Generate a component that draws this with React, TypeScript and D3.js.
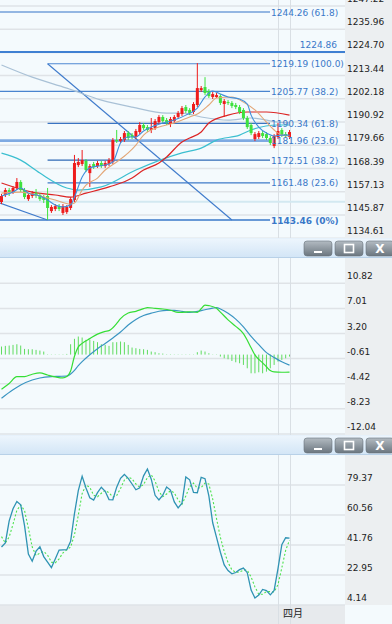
import React from 'react'
import * as d3 from 'd3'

const W = 392
const H = 624
const AXIS_X = 345

// candles (index 0..75), red = up, green = down
const opens = [1152.2, 1155.6, 1158.0, 1157.0, 1159.0, 1161.9, 1158.0, 1153.6, 1155.1, 1156.5,
  1155.6, 1154.6, 1155.1, 1147.8, 1148.8, 1150.2, 1146.9, 1147.3, 1149.3, 1153.2,
  1170.1, 1170.6, 1172.1, 1166.2, 1170.6, 1169.6, 1171.1, 1169.6, 1170.6, 1171.6,
  1182.2, 1181.7, 1182.2, 1185.6, 1184.6, 1183.7, 1186.1, 1189.5, 1188.5, 1187.1,
  1188.0, 1190.9, 1193.4, 1191.9, 1190.0, 1191.4, 1193.4, 1194.8, 1198.2, 1196.8,
  1195.8, 1199.2, 1206.4, 1207.9, 1206.0, 1203.1, 1203.1, 1203.5, 1199.7, 1200.6,
  1200.2, 1199.2, 1198.2, 1196.8, 1192.9, 1189.5, 1182.7, 1183.7, 1185.6, 1185.1,
  1183.2, 1179.3, 1183.7, 1187.1, 1185.1, 1183.7]
const highs = [1156.1, 1159.0, 1159.0, 1159.9, 1163.8, 1162.8, 1159.0, 1156.5, 1157.5, 1158.5,
  1156.5, 1155.6, 1159.0, 1150.7, 1151.2, 1151.2, 1151.2, 1150.7, 1154.6, 1175.0,
  1173.5, 1177.4, 1173.0, 1170.6, 1171.6, 1172.1, 1172.1, 1172.1, 1173.5, 1183.2,
  1187.1, 1183.7, 1186.6, 1186.6, 1185.6, 1187.6, 1190.9, 1190.5, 1189.5, 1192.9,
  1192.4, 1194.3, 1194.3, 1192.9, 1193.4, 1194.3, 1196.3, 1198.7, 1199.2, 1197.7,
  1200.6, 1219.5, 1208.4, 1212.7, 1206.9, 1205.5, 1205.0, 1204.5, 1202.1, 1201.6,
  1201.1, 1200.2, 1199.2, 1197.7, 1193.9, 1190.5, 1186.1, 1186.6, 1186.6, 1186.1,
  1184.2, 1185.1, 1190.5, 1188.0, 1186.1, 1187.1]
const lows = [1151.2, 1154.6, 1155.1, 1156.1, 1158.0, 1157.0, 1153.6, 1152.7, 1154.1, 1154.1,
  1152.7, 1151.7, 1143.5, 1146.9, 1147.8, 1147.8, 1145.9, 1146.4, 1148.3, 1152.2,
  1169.1, 1169.6, 1166.7, 1159.5, 1168.2, 1168.7, 1168.7, 1168.7, 1169.6, 1170.6,
  1180.8, 1180.8, 1181.3, 1182.2, 1182.7, 1182.7, 1185.1, 1187.1, 1186.1, 1185.6,
  1187.1, 1190.0, 1190.5, 1189.5, 1188.5, 1190.5, 1192.4, 1193.9, 1195.3, 1194.3,
  1194.8, 1198.2, 1205.5, 1204.0, 1202.6, 1202.1, 1202.6, 1199.2, 1193.4, 1199.2,
  1197.7, 1197.2, 1194.8, 1191.9, 1187.6, 1184.6, 1181.7, 1182.7, 1183.2, 1182.2,
  1179.8, 1178.3, 1182.7, 1183.7, 1183.2, 1182.7]
const closes = [1155.1, 1158.0, 1156.5, 1159.0, 1161.9, 1158.0, 1154.6, 1155.6, 1156.5, 1155.1,
  1153.6, 1153.2, 1149.3, 1149.8, 1150.2, 1148.8, 1150.2, 1149.8, 1153.6, 1171.1,
  1171.6, 1172.5, 1167.7, 1169.6, 1169.1, 1171.1, 1169.6, 1171.1, 1172.5, 1182.2,
  1181.7, 1182.7, 1185.6, 1183.2, 1183.7, 1186.6, 1189.5, 1188.0, 1187.1, 1188.0,
  1191.4, 1193.4, 1191.4, 1190.5, 1192.4, 1193.4, 1195.3, 1197.7, 1196.3, 1195.3,
  1199.7, 1207.4, 1207.4, 1205.0, 1203.5, 1204.5, 1204.0, 1200.2, 1201.1, 1200.2,
  1198.7, 1198.2, 1195.8, 1192.9, 1188.5, 1185.6, 1185.1, 1185.6, 1184.2, 1183.2,
  1180.8, 1184.2, 1186.6, 1184.6, 1184.2, 1186.1]

// moving averages as [index, price]
const maBlue = [[0, 1155.1], [3, 1157.0], [5, 1159.0], [7, 1156.5], [10, 1155.1], [12, 1153.2], [14, 1150.7],
  [16, 1149.8], [18, 1150.7], [19, 1154.6], [21, 1164.3], [23, 1168.7], [25, 1169.6], [27, 1170.1],
  [29, 1171.6], [31, 1180.8], [33, 1183.7], [35, 1183.7], [37, 1186.6], [39, 1188.5], [42, 1190.5],
  [45, 1191.9], [48, 1194.3], [51, 1197.7], [53, 1203.1], [55, 1206.0], [57, 1204.5], [59, 1203.1],
  [62, 1202.1], [64, 1199.7], [65, 1194.3], [67, 1188.5], [69, 1185.6], [71, 1184.2], [73, 1184.6], [75, 1184.6]]
const maTan = [[0, 1156.5], [5, 1157.0], [10, 1155.1], [14, 1153.2], [18, 1151.2], [19, 1151.7], [21, 1158.0],
  [22, 1160.4], [25, 1163.8], [27, 1167.7], [30, 1171.6], [33, 1176.0], [35, 1179.8], [37, 1184.6],
  [41, 1188.5], [45, 1190.5], [49, 1193.4], [51, 1194.8], [54, 1199.2], [56, 1202.6], [60, 1203.1],
  [63, 1200.6], [66, 1196.8], [69, 1190.9], [71, 1187.1], [73, 1184.6], [75, 1184.2]]
const maRed = [[0, 1161.4], [8, 1157.0], [14, 1155.6], [18, 1154.6], [22, 1156.5], [28, 1159.5], [34, 1163.8],
  [37, 1167.7], [41, 1171.1], [43, 1174.0], [47, 1181.3], [49, 1183.2], [52, 1186.1], [54, 1190.5],
  [59, 1194.3], [64, 1195.8], [69, 1195.8], [75, 1194.3]]
const maCyan = [[0, 1175.9], [5, 1172.5], [10, 1166.2], [17, 1159.0], [20, 1158.0], [26, 1159.5], [35, 1167.7],
  [47, 1176.0], [52, 1178.3], [56, 1182.2], [62, 1184.6], [65, 1187.1], [72, 1189.5], [75, 1189.5]]
const maGray = [[0, 1218.6], [8, 1212.7], [17, 1207.4], [26, 1201.6], [34, 1198.2], [43, 1195.3], [47, 1195.3],
  [52, 1193.4], [59, 1191.9], [65, 1192.9], [72, 1190.9], [75, 1190.5]]

// fibonacci levels
const fibPrices = [1244.26, 1219.19, 1205.77, 1190.34, 1181.96, 1172.51, 1161.48, 1143.46]
const fibLabels = ['1244.26 (61.8)', '1219.19 (100.0)', '1205.77 (38.2)', '1190.34 (61.8)',
  '1181.96 (23.6)', '1172.51 (38.2)', '1161.48 (23.6)', '1143.46 (0%)']
const fibStart = [-1, 12, -1, 12, -1, 12, 12, -1]
const fibTrend = [[12, 1219.19], [60, 1143.46]]
const fibTrendLeft = [[-0.4, 1151.7], [12, 1143.46]]
const levelLine = 1224.86
const faintLevel = 1152.3

const priceTicks = [1134.61, 1145.87, 1157.13, 1168.39, 1179.66, 1190.92, 1202.18, 1213.44, 1224.70, 1235.96, 1247.22]
const macdTicks = [-12.04, -8.23, -4.42, -0.61, 3.20, 7.01, 10.82]
const stochTicks = [4.14, 22.95, 41.76, 60.56, 79.37]

// MACD
const macdHist = [1.22, 1.32, 1.37, 1.47, 1.57, 1.37, 0.86, 0.81, 0.81, 0.71,
  0.61, 0.46, 0.05, 0.04, 0.04, 0.04, 0.05, 0.10, 1.57, 2.39,
  2.74, 2.59, 2.24, 2.24, 2.08, 1.88, 1.57, 1.47, 1.32, 1.88,
  1.88, 1.98, 1.88, 1.47, 1.07, 0.97, 0.86, 0.81, 0.71, 0.46,
  0.36, 0.20, 0.15, 0.05, 0.05, 0.04, 0.04, 0.04, 0.04, 0.04,
  0.04, 0.36, 0.61, 0.46, 0.20, 0.04, -0.04, -0.30, -0.56, -0.71,
  -0.97, -1.17, -1.32, -1.57, -2.08, -2.84, -2.84, -2.69, -2.84, -2.59,
  -2.08, -1.57, -1.07, -0.81, -0.56, -0.30]
const macdDif = [[0, -5.26], [2, -4.38], [4, -3.36], [6, -3.34], [8, -2.98], [10, -2.78], [12, -3.10],
  [14, -3.38], [16, -3.54], [17, -3.34], [18, -2.50], [19, -0.25], [20, 1.17], [21, 1.70], [23, 2.42],
  [25, 3.10], [27, 3.52], [28, 3.63], [29, 4.07], [30, 4.72], [31, 5.46], [33, 6.30], [35, 6.57],
  [37, 6.97], [38, 7.14], [40, 7.01], [42, 6.92], [44, 6.73], [46, 6.40], [48, 6.44], [49, 6.50],
  [51, 6.42], [52, 6.95], [53, 7.52], [54, 7.44], [56, 7.02], [57, 6.45], [59, 5.27], [61, 4.28],
  [63, 3.19], [64, 2.18], [65, 1.03], [66, -0.05], [67, -0.74], [68, -1.25], [69, -1.85], [70, -2.43],
  [71, -2.64], [73, -2.68], [75, -2.65]]
const macdDea = [[0, -6.63], [3, -5.35], [5, -4.62], [8, -3.86], [10, -3.55], [13, -3.34], [15, -3.30],
  [17, -3.26], [18, -2.95], [19, -2.40], [20, -1.69], [21, -1.08], [23, -0.03], [25, 0.88], [27, 1.69],
  [29, 2.53], [31, 3.42], [33, 4.48], [35, 5.33], [37, 5.93], [39, 6.29], [41, 6.58], [43, 6.71],
  [45, 6.70], [47, 6.57], [49, 6.40], [51, 6.55], [53, 6.81], [55, 7.05], [56, 7.12], [57, 6.92],
  [59, 6.27], [61, 5.38], [63, 4.21], [65, 2.75], [67, 1.50], [69, 0.30], [71, -0.43], [73, -1.10], [75, -1.60]]

// stochastic
const stochK = [40.5, 43.1, 56.9, 64.5, 69.0, 67.0, 53.9, 36.1, 31.6, 37.9,
  40.6, 34.5, 31.0, 27.6, 33.0, 38.6, 38.7, 38.8, 44.1, 61.4,
  75.8, 84.9, 77.5, 71.4, 69.9, 74.6, 78.0, 75.4, 70.2, 70.1,
  78.0, 83.6, 86.0, 83.5, 80.0, 76.4, 77.6, 85.1, 89.4, 83.0,
  72.9, 70.0, 73.0, 78.1, 76.2, 68.8, 65.0, 68.0, 84.4, 82.6,
  74.7, 74.5, 84.1, 83.3, 72.6, 55.7, 46.5, 37.2, 29.3, 25.7,
  23.7, 24.5, 26.3, 27.3, 24.4, 13.5, 8.5, 10.4, 13.9, 13.2,
  10.5, 13.3, 27.0, 41.9, 46.3, 46.1]
const stochD = [47.0, 43.0, 46.8, 54.8, 63.5, 66.8, 63.3, 52.3, 40.5, 35.2,
  36.7, 37.7, 35.4, 31.0, 30.5, 33.1, 36.8, 38.7, 40.5, 48.1,
  60.4, 74.0, 79.4, 77.9, 72.9, 72.0, 74.2, 76.0, 74.5, 71.9,
  72.8, 77.2, 82.5, 84.4, 83.2, 80.0, 78.0, 79.7, 84.0, 85.8,
  81.8, 75.3, 72.0, 73.7, 75.8, 74.4, 70.0, 67.3, 72.5, 78.3,
  80.6, 77.3, 77.8, 80.6, 80.0, 70.5, 58.3, 46.5, 37.7, 30.7,
  26.2, 24.6, 24.8, 26.0, 26.0, 21.7, 15.5, 10.8, 10.9, 12.5,
  12.5, 12.3, 16.9, 27.4, 38.4, 44.8]

const monthIndex = 72
const monthLabel = '四月'
const lastIndex = 75

const FONT = 'DejaVu Sans, Verdana, sans-serif'

const TOP = { y0: 0, y1: 238 }
const MACD = { y0: 258, y1: 435 }
const STO = { y0: 455, y1: 605 }

function PanelBar({ y }: { y: number }) {
  const btn = [304, 335, 366]
  return (
    <g>
      <rect x={0} y={y} width={W} height={20} fill="url(#barGrad)" />
      <line x1={0} x2={W} y1={y + 0.5} y2={y + 0.5} stroke="#e6f1fb" />
      <line x1={0} x2={W} y1={y + 19.5} y2={y + 19.5} stroke="#b8d1e8" />
      {btn.map((bx, i) => (
        <g key={i}>
          <rect x={bx} y={y + 3} width={28} height={15} rx={3} fill="url(#btnGrad)" stroke="#68737c" strokeWidth={0.6} />
          {i === 0 && <rect x={bx + 10} y={y + 13} width={8} height={2} fill="#fff" />}
          {i === 1 && <rect x={bx + 9.5} y={y + 6.5} width={9} height={8} fill="none" stroke="#fff" strokeWidth={1.6} />}
          {i === 2 && (
            <text x={bx + 14} y={y + 15} textAnchor="middle" fontSize={12} fontWeight="bold" fill="#fff" fontFamily={FONT}>X</text>
          )}
        </g>
      ))}
    </g>
  )
}

export default function App() {
  const x = d3.scaleLinear().domain([0, lastIndex]).range([1.5, 289.5])
  const yP = d3.scaleLinear().domain([1134.61, 1247.22]).range([238.3, 5.9])
  const yM = d3.scaleLinear().domain([-12.04, 10.82]).range([433.9, 283.3])
  const yS = d3.scaleLinear().domain([4.14, 79.37]).range([605, 485])

  const maLine = d3.line<number[]>().x(d => x(d[0])).y(d => yP(d[1])).curve(d3.curveMonotoneX)
  const macdLine = d3.line<number[]>().x(d => x(d[0])).y(d => yM(d[1])).curve(d3.curveMonotoneX)
  const stochLine = d3.line<number>().x((d, i) => x(i)).y(d => yS(d))
  const seg = d3.line<number[]>().x(d => x(d[0])).y(d => yP(d[1]))

  const fibStroke = ['#93b6e2', '#4f88d2', '#4a84cf', '#3a74c2', '#7eaae2', '#2f69b5', '#3f7bc8', '#3a78c8']
  const fibWidth = [2, 1.2, 1.2, 1.2, 2.6, 1.2, 1.2, 1.6]
  const labelX = 271
  const lineEnd = 270

  const up = '#ee1c1c'
  const down = '#3ee23e'

  return (
    <svg width={W} height={H} style={{ position: 'absolute', left: 0, top: 0, background: '#f4fafd' }}>
      <defs>
        <linearGradient id="barGrad" x1="0" y1="0" x2="0" y2="1">
          <stop offset="0" stopColor="#eef6fd" />
          <stop offset="1" stopColor="#d2e5f6" />
        </linearGradient>
        <linearGradient id="btnGrad" x1="0" y1="0" x2="0" y2="1">
          <stop offset="0" stopColor="#b3bbc2" />
          <stop offset="1" stopColor="#6b767f" />
        </linearGradient>
        <clipPath id="clipTop"><rect x={0} y={TOP.y0} width={AXIS_X} height={TOP.y1 - TOP.y0} /></clipPath>
        <clipPath id="clipMacd"><rect x={0} y={MACD.y0} width={AXIS_X} height={MACD.y1 - MACD.y0} /></clipPath>
        <clipPath id="clipSto"><rect x={0} y={STO.y0} width={AXIS_X} height={STO.y1 - STO.y0} /></clipPath>
      </defs>

      {/* backgrounds */}
      <rect x={0} y={0} width={W} height={H} fill="#f4fafd" />
      <rect x={AXIS_X} y={0} width={W - AXIS_X} height={STO.y1} fill="#eceff1" />
      <rect x={0} y={STO.y1} width={AXIS_X} height={H - STO.y1} fill="#e7eaed" />

      {/* grid */}
      {priceTicks.map(t => (
        <line key={'pg' + t} x1={0} x2={AXIS_X} y1={yP(t)} y2={yP(t)} stroke="#dfe3e7" strokeWidth={1.5} />
      ))}
      {macdTicks.map(t => (
        <line key={'mg' + t} x1={0} x2={AXIS_X} y1={yM(t)} y2={yM(t)} stroke="#dfe3e7" strokeWidth={1.5} />
      ))}
      {stochTicks.map(t => (
        <line key={'sg' + t} x1={0} x2={AXIS_X} y1={yS(t)} y2={yS(t)} stroke="#dfe3e7" strokeWidth={1.5} />
      ))}

      {/* separators */}
      {[monthIndex, lastIndex].map(i => (
        <line key={'v' + i} x1={Math.round(x(i)) + 0.5} x2={Math.round(x(i)) + 0.5} y1={0} y2={H} stroke="#d9dfe4" strokeWidth={1} />
      ))}

      {/* price panel */}
      <g clipPath="url(#clipTop)">
        <line x1={0} x2={W} y1={yP(faintLevel)} y2={yP(faintLevel)} stroke="#d3e9f1" strokeWidth={2} />
        {fibPrices.map((p, i) => (
          <line key={'f' + i} x1={fibStart[i] < 0 ? 0 : x(fibStart[i])} x2={lineEnd} y1={yP(p)} y2={yP(p)}
            stroke={fibStroke[i]} strokeWidth={fibWidth[i]} />
        ))}
        <line x1={0} x2={AXIS_X} y1={yP(levelLine)} y2={yP(levelLine)} stroke="#3f80d2" strokeWidth={2} />
        <path d={seg(fibTrend) || ''} fill="none" stroke="#3f7bcc" strokeWidth={1.1} />
        <path d={seg(fibTrendLeft) || ''} fill="none" stroke="#3f7bcc" strokeWidth={1.1} />

        <path d={maLine(maGray) || ''} fill="none" stroke="#a9c1d6" strokeWidth={1.2} />
        <path d={maLine(maCyan) || ''} fill="none" stroke="#3bbfd0" strokeWidth={1.2} />
        <path d={maLine(maRed) || ''} fill="none" stroke="#dc2424" strokeWidth={1.2} />

        {closes.map((c, i) => {
          const o = opens[i]
          const col = c >= o ? up : down
          const cx = x(i)
          const top = yP(Math.max(o, c))
          const bot = yP(Math.min(o, c))
          return (
            <g key={'c' + i}>
              <line x1={cx} x2={cx} y1={yP(highs[i])} y2={yP(lows[i])} stroke={col} strokeWidth={1} />
              <rect x={cx - 1.5} y={top} width={3} height={Math.max(1, bot - top)} fill={col} />
            </g>
          )
        })}

        <path d={maLine(maTan) || ''} fill="none" stroke="#e3a676" strokeWidth={1.1} />
        <path d={maLine(maBlue) || ''} fill="none" stroke="#3f8fdc" strokeWidth={1.1} />
      </g>

      {/* fib labels */}
      {fibLabels.map((l, i) => (
        <text key={'fl' + i} x={labelX} y={yP(fibPrices[i]) + 3.5} fontSize={9} fill="#3a78c8" fontFamily={FONT}
          fontWeight={i === fibLabels.length - 1 ? 'bold' : 'normal'}>{l}</text>
      ))}
      <text x={337} y={yP(levelLine) - 4} textAnchor="end" fontSize={9} fill="#3a78c8" fontFamily={FONT}>{levelLine.toFixed(2)}</text>

      {/* macd panel */}
      <g clipPath="url(#clipMacd)">
        {macdHist.map((v, i) => (
          <line key={'h' + i} x1={x(i)} x2={x(i)} y1={yM(0)} y2={yM(v)} stroke="#5fdc5f" strokeWidth={1} />
        ))}
        <path d={macdLine(macdDea) || ''} fill="none" stroke="#3a95c2" strokeWidth={1.2} />
        <path d={macdLine(macdDif) || ''} fill="none" stroke="#35de35" strokeWidth={1.2} />
      </g>

      {/* stochastic panel */}
      <g clipPath="url(#clipSto)">
        <path d={stochLine(stochD) || ''} fill="none" stroke="#4de24d" strokeWidth={1.1} strokeDasharray="2,2" />
        <path d={stochLine(stochK) || ''} fill="none" stroke="#2f93b3" strokeWidth={1.3} />
      </g>

      {/* axis labels */}
      {priceTicks.map(t => (
        <text key={'pt' + t} x={347} y={yP(t) - 4} fontSize={9} fill="#222" fontFamily={FONT}>{t.toFixed(2)}</text>
      ))}
      {macdTicks.map(t => (
        <text key={'mt' + t} x={347} y={yM(t) - 4} fontSize={9} fill="#222" fontFamily={FONT}>{t.toFixed(2)}</text>
      ))}
      {stochTicks.map(t => (
        <text key={'st' + t} x={347} y={yS(t) - 4} fontSize={9} fill="#222" fontFamily={FONT}>{t.toFixed(2)}</text>
      ))}

      <PanelBar y={TOP.y1} />
      <PanelBar y={MACD.y1} />

      <text x={x(monthIndex) + 5} y={617} fontSize={10} fill="#222" fontFamily="Noto Sans CJK SC, sans-serif">{monthLabel}</text>
    </svg>
  )
}
